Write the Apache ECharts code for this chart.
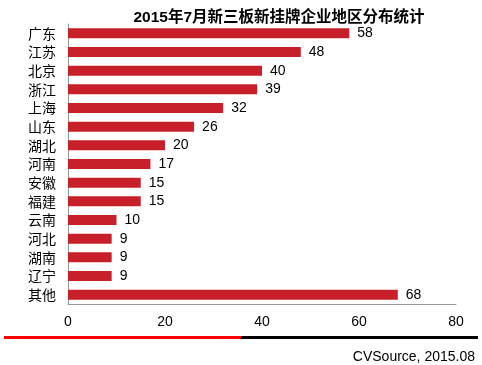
<!DOCTYPE html>
<html><head><meta charset="utf-8">
<script src="https://cdn.jsdelivr.net/npm/echarts@6/dist/echarts.min.js"></script>
<style>html,body{margin:0;padding:0;background:#fff}#c{width:482px;height:365px}</style>
</head><body><div id="c"></div>
<script>
const categories = ['广东','江苏','北京','浙江','上海','山东','湖北','河南','安徽','福建','云南','河北','湖南','辽宁','其他'];
const values = [58,48,40,39,32,26,20,17,15,15,10,9,9,9,68];
const xTicks = [0,20,40,60,80];
const titleText = '2015年7月新三板新挂牌企业地区分布统计';
const sourceText = 'CVSource, 2015.08';
const FONT = '"Liberation Sans", Arial, "Noto Sans CJK SC", sans-serif';
const chart = echarts.init(document.getElementById('c'));
chart.setOption({
  animation: false,
  textStyle: {fontFamily: FONT},
  title: {text: titleText, left: 274, top: 5, textAlign: 'center',
    textStyle: {fontSize: 15.5, fontWeight: 'bold', color: '#000', fontFamily: FONT}},
  grid: {left: 68, right: 26, top: 24, height: 280, containLabel: false},
  xAxis: {type: 'value', min: xTicks[0], max: xTicks[xTicks.length-1], interval: 20,
    axisLine: {show: true, lineStyle: {color: '#999'}},
    axisTick: {show: false},
    splitLine: {show: false},
    axisLabel: {color: '#000', fontSize: 14, margin: 11, fontFamily: FONT}},
  yAxis: {type: 'category', data: categories, inverse: true,
    axisLine: {show: true, lineStyle: {color: '#999'}},
    axisTick: {show: false},
    axisLabel: {color: '#000', fontSize: 14, margin: 12, fontFamily: '"Noto Sans CJK SC", sans-serif'}},
  series: [{type: 'bar', data: values, barWidth: 10,
    itemStyle: {color: '#C8202A'},
    label: {show: true, position: 'right', distance: 8, color: '#000', fontSize: 14, fontFamily: FONT}}],
  graphic: [
    {type: 'rect', shape: {x: 4, y: 336, width: 237, height: 3}, style: {fill: '#FF0000'}},
    {type: 'rect', shape: {x: 241, y: 336, width: 237, height: 3}, style: {fill: '#000'}},
    {type: 'text', right: 7, top: 350, style: {text: sourceText, fill: '#000', font: '14px ' + FONT}}
  ]
});
</script></body></html>
